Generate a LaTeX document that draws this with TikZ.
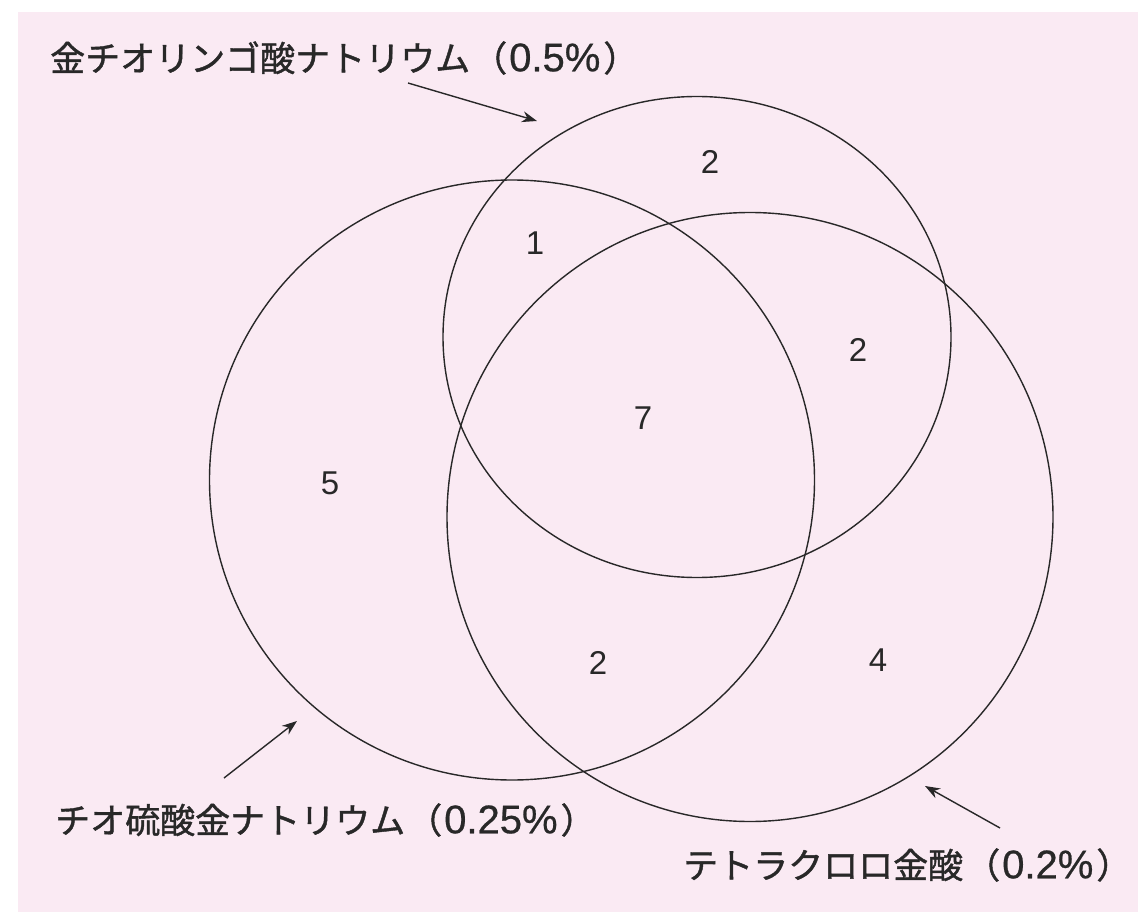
\documentclass[tikz,border=0pt]{standalone}
\usepackage{fontspec}
\setmainfont{Liberation Sans}
\newfontfamily\jpfont[FakeBold=1.2]{Noto Sans CJK JP}
\newfontfamily\numfont[FakeBold=0.6]{Liberation Sans}
\usetikzlibrary{arrows.meta,shapes.geometric}
\definecolor{pagepink}{RGB}{250,234,243}
\definecolor{inkgray}{RGB}{40,40,40}
\newcommand{\pct}[1]{\hspace{2pt}\jpfont（\hspace{2pt}{\numfont\fontsize{40}{42}\selectfont #1}\hspace{3pt}\jpfont）}
\tikzset{
  setring/.style={draw=inkgray, line width=1.4pt, ellipse, inner sep=0pt},
  setlabel/.style={anchor=west, inner sep=0pt, text=inkgray, font=\jpfont\fontsize{35}{42}\selectfont},
  countnum/.style={inner sep=0pt, text=inkgray, font=\fontsize{33}{40}\selectfont},
  pointer/.style={draw=inkgray, line width=1.4pt, -{Stealth[length=15pt,width=11pt]}}
}
\begin{document}
\begin{tikzpicture}[x=1pt,y=-1pt]
\useasboundingbox (0,0) rectangle (1138,920);
\fill[white] (0,0) rectangle (1138,920);
\fill[pagepink] (18,12) rectangle (1138,912);
% circles
\node[setring, minimum width=508pt, minimum height=481pt] (ringA) at (697,337) {};
\node[setring, minimum width=605pt, minimum height=600pt] (ringB) at (512,480) {};
\node[setring, minimum width=606pt, minimum height=609pt] (ringC) at (750,517) {};
% counts
\node[countnum] (nA) at (710,162) {2};
\node[countnum] (nAB) at (535,243) {1};
\node[countnum] (nAC) at (858,350) {2};
\node[countnum] (nABC) at (643,418) {7};
\node[countnum] (nB) at (330,483) {5};
\node[countnum] (nBC) at (598,663) {2};
\node[countnum] (nC) at (878,660) {4};
% labels
\node[setlabel] (labA) at (50,58) {金チオリンゴ酸ナトリウム\pct{0.5\%}};
\node[setlabel] (labB) at (55,820) {チオ硫酸金ナトリウム\pct{0.25\%}};
\node[setlabel] (labC) at (683,865) {テトラクロロ金酸\pct{0.2\%}};
% pointers
\coordinate (pA0) at (408,83);
\coordinate (pA1) at (537,121);
\coordinate (pB0) at (224,778);
\coordinate (pB1) at (297,721);
\coordinate (pC0) at (1000,828);
\coordinate (pC1) at (925,786);
\draw[pointer] (pA0) -- (pA1);
\draw[pointer] (pB0) -- (pB1);
\draw[pointer] (pC0) -- (pC1);
\end{tikzpicture}
\end{document}
